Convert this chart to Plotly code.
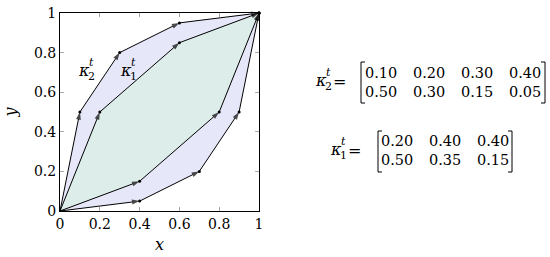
import numpy as np
import plotly.graph_objects as go

# kappa matrices (row 0 -> x increments, row 1 -> y increments)
kappa2_x = [0.10, 0.20, 0.30, 0.40]
kappa2_y = [0.50, 0.30, 0.15, 0.05]
kappa1_x = [0.20, 0.40, 0.40]
kappa1_y = [0.50, 0.35, 0.15]

tick_vals = [0, 0.2, 0.4, 0.6, 0.8, 1]
tick_text = ["0", "0.2", "0.4", "0.6", "0.8", "1"]

SERIF = "DejaVu Serif"
OUTER_FILL = "rgb(231,231,250)"
INNER_FILL = "rgb(221,238,234)"


def chain(dx, dy):
    # piecewise linear curve from (0,0) to (1,1)
    xs = np.concatenate([[0], np.cumsum(dx)])
    ys = np.concatenate([[0], np.cumsum(dy)])
    return xs, ys


up2 = chain(kappa2_x, kappa2_y)
lo2 = chain(kappa2_x[::-1], kappa2_y[::-1])
up1 = chain(kappa1_x, kappa1_y)
lo1 = chain(kappa1_x[::-1], kappa1_y[::-1])

fig = go.Figure()

# filled regions
for up, lo, col in [(up2, lo2, OUTER_FILL), (up1, lo1, INNER_FILL)]:
    fig.add_trace(go.Scatter(
        x=np.concatenate([up[0], lo[0][::-1]]),
        y=np.concatenate([up[1], lo[1][::-1]]),
        fill="toself", fillcolor=col, mode="none", hoverinfo="skip"))

# arrowed chains
for xs, ys in [up2, lo2, up1, lo1]:
    sizes = [0] + [8] * (len(xs) - 1)
    fig.add_trace(go.Scatter(
        x=xs, y=ys, mode="lines+markers",
        line=dict(color="black", width=1),
        marker=dict(symbol="arrow", size=sizes, color="black",
                    angleref="previous", line=dict(width=0)),
        cliponaxis=False, hoverinfo="skip"))
    fig.add_trace(go.Scatter(
        x=xs[1:], y=ys[1:], mode="markers",
        marker=dict(size=3, color="black"), cliponaxis=False, hoverinfo="skip"))

axis_common = dict(
    range=[0, 1], tickvals=tick_vals, ticktext=tick_text,
    ticks="inside", ticklen=4, tickcolor="#aaaaaa", mirror="allticks",
    showline=True, linecolor="black", linewidth=1,
    showgrid=False, zeroline=False, automargin=False,
    ticklabeloverflow="allow",
    tickfont=dict(family=SERIF, size=14, color="black"),
)
fig.update_xaxes(**axis_common, title=dict(text="<i>x</i>", standoff=8,
                 font=dict(family=SERIF, size=16, color="black")))
fig.update_yaxes(**axis_common, title=dict(text="<i>y</i>", standoff=13,
                 font=dict(family=SERIF, size=16, color="black")))

W, H = 550, 257
L, R, T, B = 60, 291, 13, 46
PW, PH = W - L - R, H - T - B


def px(x):
    return (x - L) / PW


def py(y):
    return (H - B - y) / PH


def note(x, y, text, size, xref="paper", yref="paper", xshift=0, yshift=0, xanchor="center"):
    fig.add_annotation(x=x, y=y, xref=xref, yref=yref, text=text, showarrow=False,
                       xanchor=xanchor, yanchor="middle", xshift=xshift, yshift=yshift,
                       borderpad=0, font=dict(family=SERIF, size=size, color="black"))


def kappa_label(x, y, idx, xref="paper", yref="paper", size=16):
    note(x, y, "<i>κ</i>", size, xref, yref)
    note(x, y, "<i>t</i>", 11, xref, yref, xshift=4, yshift=8, xanchor="left")
    note(x, y, str(idx), 11, xref, yref, xshift=3, yshift=-6, xanchor="left")


# labels inside the plot
kappa_label(0.12, 0.71, 2, xref="x", yref="y")
kappa_label(0.33, 0.71, 1, xref="x", yref="y")


def matrix(kx, ky, idx, label_x, left, top, bottom, col0, colstep, row0, rowstep):
    mid = (top + bottom) / 2
    kappa_label(px(label_x), py(mid - 2), idx)
    note(px(label_x + 18), py(mid - 1), "=", 16)
    right = col0 + colstep * (len(kx) - 1) + (col0 - left)
    for r, row in enumerate([kx, ky]):
        for c, v in enumerate(row):
            note(px(col0 + c * colstep), py(row0 + r * rowstep), f"{v:.2f}", 14.5)
    for x0, x1 in [(left, left + 4), (right, right - 4)]:
        fig.add_shape(type="path", xref="paper", yref="paper",
                      path=f"M {px(x1)},{py(top)} L {px(x0)},{py(top)} L {px(x0)},{py(bottom)} L {px(x1)},{py(bottom)}",
                      line=dict(color="black", width=1))


matrix(kappa2_x, kappa2_y, 2, 321, 361, 62, 103, 381, 48, 73, 19)
matrix(kappa1_x, kappa1_y, 1, 336, 378, 131, 172, 397, 48, 141, 19)

fig.update_layout(
    width=W, height=H, showlegend=False,
    margin=dict(l=L, r=R, t=T, b=B),
    plot_bgcolor="white", paper_bgcolor="white",
)

# drop the default page margin so the figure sits at the window's corner
fig.write_html("out.html", config={"displayModeBar": False},
               post_script="document.body.style.margin = '0';")
